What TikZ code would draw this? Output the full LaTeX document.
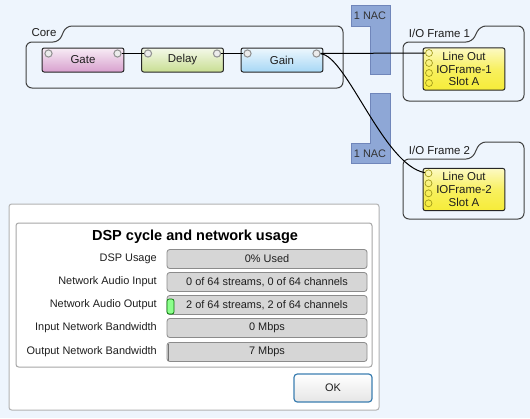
\documentclass[tikz,border=0pt]{standalone}
\usepackage{fontspec}
\setmainfont{Liberation Sans}
\usepackage{tikz}
\usetikzlibrary{positioning, calc}
\definecolor{bgblue}{RGB}{238,245,253}
\definecolor{gatepink}{RGB}{216,160,206}
\definecolor{delaygreen}{RGB}{200,222,146}
\definecolor{gainblue}{RGB}{166,215,245}
\definecolor{loyellow}{RGB}{246,236,56}
\definecolor{nacblue}{RGB}{142,167,214}
\definecolor{nacedge}{RGB}{112,134,186}
\definecolor{barfill}{RGB}{214,214,214}
\definecolor{baredge}{RGB}{140,140,140}
\definecolor{okedge}{RGB}{60,127,177}
\definecolor{txt}{RGB}{30,30,30}
\newcommand{\smallfont}{\fontsize{8.2pt}{9.6pt}\selectfont}
\newcommand{\blockfont}{\fontsize{8.6pt}{9.6pt}\selectfont}
\newcommand{\titlefont}{\fontsize{10.9pt}{12pt}\selectfont\bfseries}

\begin{document}
\begin{tikzpicture}[x=0.75pt, y=-0.75pt,
    frame/.style={draw=black!75, line width=0.75pt, rounded corners=4.5pt},
    framelabel/.style={text=txt, font=\blockfont, inner sep=0pt},
    block/.style={draw=black!85, line width=0.75pt, rounded corners=1.5pt, minimum width=61.3pt, minimum height=18pt, inner sep=0pt, text=txt, font=\blockfont},
    lineout/.style={block, minimum height=31.6pt, align=center, top color=loyellow!30, bottom color=loyellow, middle color=loyellow!80},
    port/.style={circle, draw=gray!85, fill=white!85!gray, line width=0.8pt, minimum size=5.4pt, inner sep=0pt},
    ioport/.style={circle, draw=olive!85, line width=0.5pt, minimum size=5.2pt, inner sep=0pt},
    wire/.style={draw=black, line width=0.75pt},
    nac/.style={fill=nacblue, draw=nacedge, line width=0.6pt},
    naclabel/.style={text=black!80, font=\smallfont, inner sep=0pt},
    rowlabel/.style={anchor=east, text=txt, font=\smallfont, inner sep=0pt},
    bar/.style={draw=baredge, fill=barfill, line width=0.6pt, rounded corners=2pt, minimum width=150pt, minimum height=14.2pt, inner sep=0pt, text=txt, font=\smallfont},
    okbtn/.style={draw=okedge, line width=0.9pt, rounded corners=2.5pt, top color=white, bottom color=black!10, minimum width=58.5pt, minimum height=21pt, text=txt, font=\smallfont}
]
\fill[bgblue] (0,0) rectangle (530,418);
\useasboundingbox (0,0) rectangle (530,418);

\draw[frame] (26,88) -- (26,42) -- (59,42) -- (66,26) -- (343,26) -- (343,88) -- cycle;
\node[framelabel] (corelabel) at (44,33) {Core};
\draw[frame] (403,101) -- (403,42) -- (472,42) -- (480,26) -- (524,26) -- (524,101) -- cycle;
\node[framelabel] (io1label) at (439.5,33) {I/O Frame 1};
\draw[frame] (403,219) -- (403,159) -- (472,159) -- (480,142) -- (524,142) -- (524,219) -- cycle;
\node[framelabel] (io2label) at (439.5,150) {I/O Frame 2};

\draw[nac] (351,5) -- (390,5) -- (390,74) -- (370,74) -- (370,26) -- (351,26) -- cycle;
\node[naclabel] (nactop) at (370,15.5) {1 NAC};
\draw[nac] (370,93) -- (390,93) -- (390,163) -- (351,163) -- (351,143) -- (370,143) -- cycle;
\node[naclabel] (nacbottom) at (370,153.5) {1 NAC};

\node[block, top color=gatepink!20, bottom color=gatepink] (gate) at (83,60) {Gate};
\node[block, top color=delaygreen!20, bottom color=delaygreen] (delay) at (182.5,60) {Delay};
\node[block, top color=gainblue!20, bottom color=gainblue] (gain) at (282,60) {Gain};
\foreach \n/\x in {gate/83, delay/182.5, gain/282} {
    \node[port] (\n-l) at (\x-34.5,53.5) {};
    \node[port] (\n-r) at (\x+34.5,53.5) {};
}

\node[lineout] (lo1) at (464,69) {Line Out\\IOFrame-1\\Slot A};
\node[lineout] (lo2) at (464,189.5) {Line Out\\IOFrame-2\\Slot A};
\foreach \k in {1,...,4} {
    \node[ioport] (lo1-\k) at (429,43+10*\k) {};
    \node[ioport] (lo2-\k) at (428.5,163.3+10*\k) {};
}

\draw[wire] (gate-r) -- (delay-l);
\draw[wire] (delay-r) -- (gain-l);
\draw[wire] (gain-r) -- (lo1-1);
\draw[wire] (gain-r) .. controls +(30,2) and +(-45,-8) .. (lo2-1);

\draw[draw=black!30, fill=white, line width=0.75pt, rounded corners=2pt] (9,204) rectangle (379,410);
\draw[draw=black!35, line width=0.75pt, rounded corners=2pt] (16,223) rectangle (372,367);
\node[font=\titlefont, text=black, inner sep=0pt] (title) at (195,237) {DSP cycle and network usage};
\foreach \y/\lbl/\val [count=\i] in {259/DSP Usage/0\% Used,
        {282/Network Audio Input/0 of 64 streams, 0 of 64 channels},
        {305/Network Audio Output/2 of 64 streams, 2 of 64 channels},
        328/Input Network Bandwidth/0 Mbps,
        352/Output Network Bandwidth/7 Mbps} {
    \node[rowlabel] (label\i) at (157,\y) {\lbl};
    \node[bar] (bar\i) at (267,\y) {\val};
}
\node[draw=green!45!black, fill=green!45, line width=0.5pt, rounded corners=1.5pt, minimum width=5.2pt, minimum height=11.2pt, inner sep=0pt] (audiolevel) at (170.5,306.5) {};
\fill[black!55] (167.6,344) rectangle (169.4,361);
\node[okbtn] (ok) at (333,388) {OK};
\end{tikzpicture}
\end{document}
